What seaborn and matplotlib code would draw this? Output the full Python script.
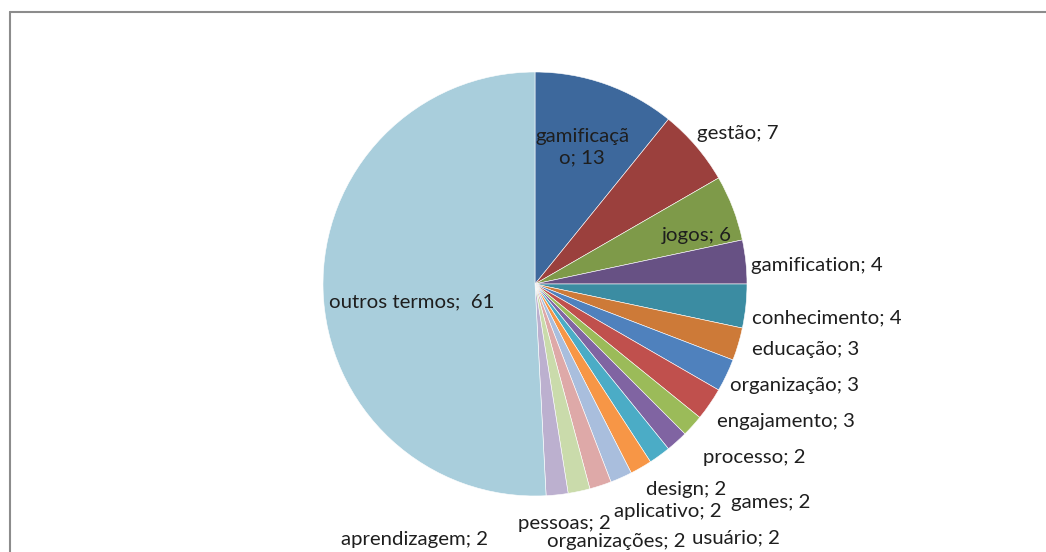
import seaborn as sns
import matplotlib.pyplot as plt
from matplotlib.lines import Line2D

# Dados
termos = ["gamificação", "gestão", "jogos", "gamification", "conhecimento",
          "educação", "organização", "engajamento", "processo", "games",
          "usuário", "design", "aplicativo", "organizações", "pessoas",
          "aprendizagem", "outros termos"]
contagens = [13, 7, 6, 4, 4, 3, 3, 3, 2, 2, 2, 2, 2, 2, 2, 2, 61]
rotulos = ["gamificaçã\no; 13", "gestão; 7", "jogos; 6", "gamification; 4",
           "conhecimento; 4", "educação; 3", "organização; 3", "engajamento; 3",
           "processo; 2", "games; 2", "usuário; 2", "design; 2", "aplicativo; 2",
           "organizações; 2", "pessoas; 2", "aprendizagem; 2", "outros termos;  61"]

cores = ["#3D689C", "#9B403D", "#7E9A49", "#675184", "#3B8CA2", "#CD7A38",
         "#4F81BD", "#C0504D", "#9BBB59", "#8064A2", "#4BACC6", "#F79646",
         "#A9BEDD", "#DEA9A8", "#CADBAB", "#BCB0CF", "#A9CEDC"]

# posição dos rótulos (pixels na imagem)
pos_rotulos = [(582, 147), (738, 133), (697, 235), (817, 266), (827, 318),
               (806, 350), (795, 386), (786, 421), (754, 457), (771, 502),
               (736, 538), (686, 490), (668, 512), (616, 542), (564, 523),
               (415, 540), (412, 302)]

sns.set_theme(style="white")
plt.rcParams['font.family'] = ['Lato', 'DejaVu Sans']

W, H = 1046, 552
cx, cy, r = 535, 284, 212

fig = plt.figure(figsize=(W / 100, H / 100), dpi=100)
ax = fig.add_axes([0, 0, 1, 1])
ax.pie(contagens, colors=sns.color_palette(cores), startangle=90, counterclock=False,
       radius=1, center=(0, 0), wedgeprops=dict(edgecolor="white", linewidth=0.4))
ax.set_xlim(-cx / r, (W - cx) / r)
ax.set_ylim((cy - H) / r, cy / r)
ax.set_aspect("auto")
ax.axis("off")

for txt, (px, py) in zip(rotulos, pos_rotulos):
    ax.text((px - cx) / r, (cy - py) / r, txt, ha="center", va="center",
            fontsize=14.7, color="#1E1E1E", linespacing=1.3)

# moldura do gráfico (recortada)
fig.add_artist(Line2D([10 / W, 10 / W], [0, 1 - 12 / H], transform=fig.transFigure,
                      color="#8C8C8C", lw=1.5))
fig.add_artist(Line2D([10 / W, 1], [1 - 12 / H, 1 - 12 / H], transform=fig.transFigure,
                      color="#8C8C8C", lw=1.5))

fig.savefig("out.png", dpi=100, facecolor="white")
